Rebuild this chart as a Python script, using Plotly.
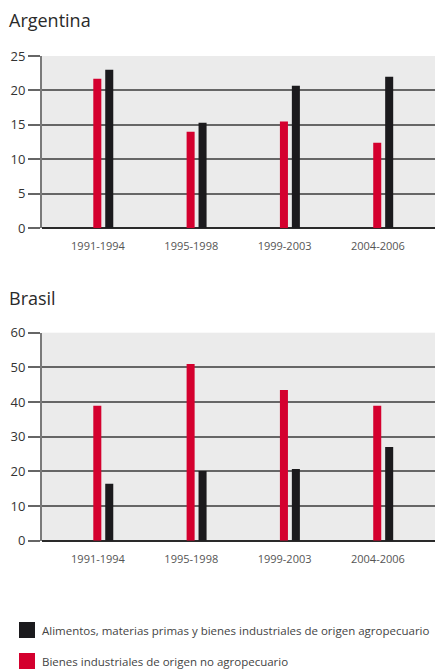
import plotly.graph_objects as go

# periods shown on the x axis
periods = ['1991-1994', '1995-1998', '1999-2003', '2004-2006']

# Argentina
arg_no_agro = [21.7, 14.0, 15.5, 12.4]
arg_agro = [23.0, 15.3, 20.7, 22.0]

# Brasil
bra_no_agro = [38.9, 51.0, 43.5, 38.9]
bra_agro = [16.4, 20.1, 20.7, 27.0]

name_agro = 'Alimentos, materias primas y bienes industriales de origen agropecuario'
name_no_agro = 'Bienes industriales de origen no agropecuario'

RED = '#d4002e'
BLACK = '#1b1a1d'
H = 669.0

fig = go.Figure()

for xa, ya, red_vals, black_vals in [('x', 'y', arg_no_agro, arg_agro),
                                     ('x2', 'y2', bra_no_agro, bra_agro)]:
    fig.add_trace(go.Bar(x=periods, y=red_vals, name=name_no_agro,
                         marker=dict(color=RED, line=dict(width=0)),
                         offset=-0.05, width=0.086,
                         xaxis=xa, yaxis=ya, showlegend=False))
    fig.add_trace(go.Bar(x=periods, y=black_vals, name=name_agro,
                         marker=dict(color=BLACK, line=dict(width=0)),
                         offset=0.078, width=0.086,
                         xaxis=xa, yaxis=ya, showlegend=False))

xaxis_style = dict(domain=[41.7 / 435, 1], range=[-0.603, 3.612],
                   showgrid=False, ticks='', showline=False, zeroline=False,
                   automargin=False,
                   tickfont=dict(family='Open Sans', size=11, color='#555555'),
                   ticklabelstandoff=10)
yaxis_style = dict(showgrid=True, gridcolor='#666666', gridwidth=1.5,
                   zeroline=True, zerolinecolor='#2a2a2a', zerolinewidth=1.5,
                   showline=True, linecolor='#7a7a7a', linewidth=1.5,
                   automargin=False,
                   ticks='outside', ticklen=12, tickcolor='#666666', tickwidth=1.5,
                   tickfont=dict(family='Open Sans', size=13, color='#333333'))

fig.update_layout(
    width=435, height=669,
    margin=dict(l=0, r=0, t=0, b=0, autoexpand=False),
    paper_bgcolor='white', plot_bgcolor='#ebebeb',
    barmode='overlay',
    xaxis=dict(anchor='y', **xaxis_style),
    yaxis=dict(anchor='x', domain=[1 - 228.3 / H, 1 - 56 / H],
               range=[0, 25], tickvals=[0, 5, 10, 15, 20, 25], **yaxis_style),
    xaxis2=dict(anchor='y2', **xaxis_style),
    yaxis2=dict(anchor='x2', domain=[1 - 540.7 / H, 1 - 332.7 / H],
                range=[0, 60], tickvals=[0, 10, 20, 30, 40, 50, 60], **yaxis_style),
)

# panel titles
for text, ypx in [('Argentina', 20), ('Brasil', 298)]:
    fig.add_annotation(text=text, xref='paper', yref='paper',
                       x=7 / 435, y=1 - ypx / H, xanchor='left', yanchor='middle',
                       showarrow=False,
                       font=dict(family='Open Sans', size=18, color='#2a2a2a'))

# legend drawn by hand
for color, label, ypx in [(BLACK, name_agro, 630), (RED, name_no_agro, 661)]:
    fig.add_shape(type='rect', xref='paper', yref='paper',
                  x0=19 / 435, x1=35 / 435,
                  y0=1 - (ypx + 8) / H, y1=1 - (ypx - 8) / H,
                  fillcolor=color, line=dict(width=0))
    fig.add_annotation(text=label, xref='paper', yref='paper',
                       x=40 / 435, y=1 - ypx / H, xanchor='left', yanchor='middle',
                       showarrow=False,
                       font=dict(family='Open Sans', size=11.5, color='#444444'))

# page body has a default 8px margin; drop it so the figure fills the window
fig.write_html('out.html', config={'displayModeBar': False},
               post_script="document.body.style.margin='0';")
